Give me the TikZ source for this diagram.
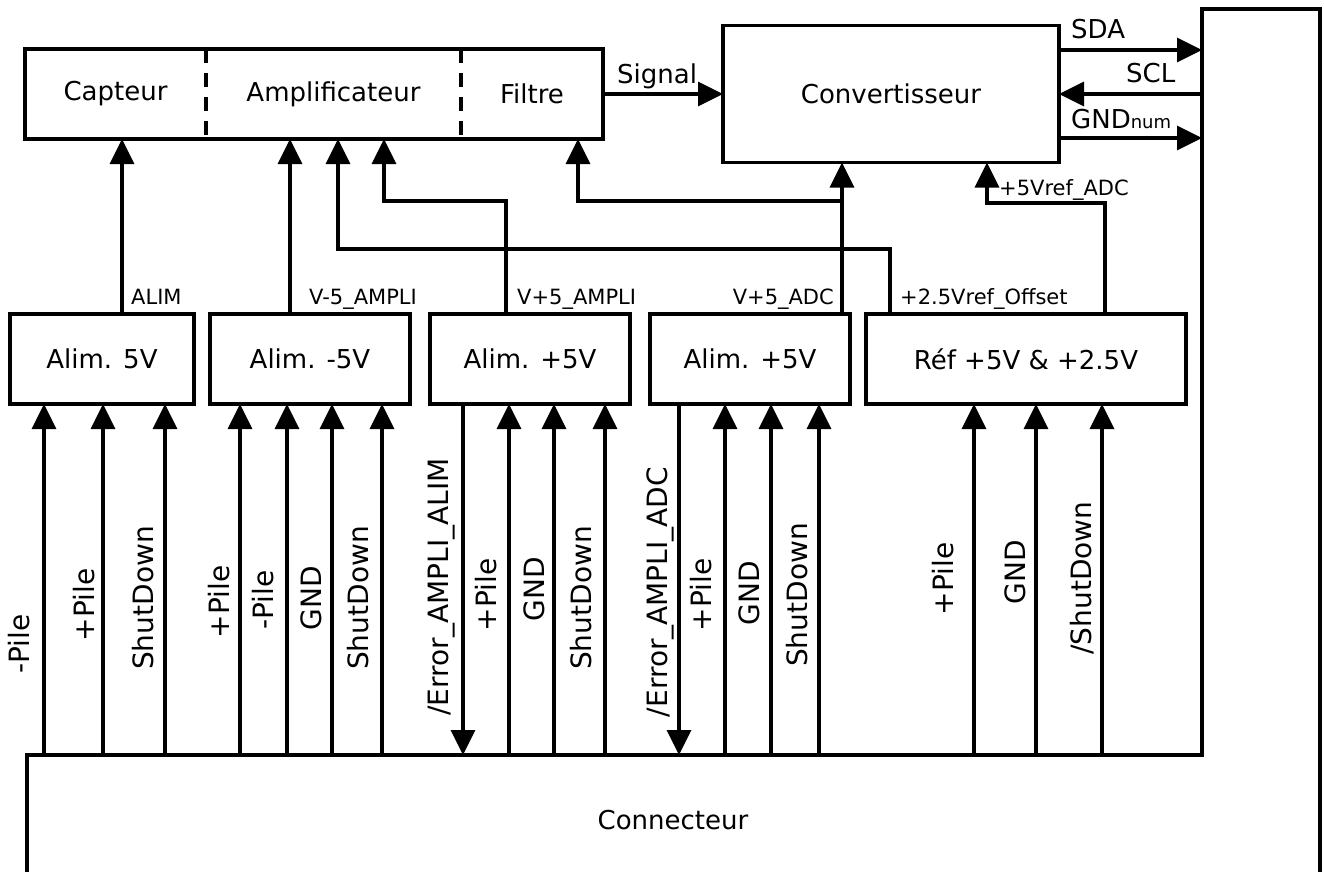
\documentclass[tikz,border=0pt]{standalone}
\usepackage{fontspec}
\setmainfont{DejaVu Sans}
\usetikzlibrary{arrows.meta,positioning,calc}

\tikzset{
  blk/.style={draw, line width=3.5pt, inner sep=0pt, outer sep=0pt, minimum height=90pt, font=\fontsize{26}{30}\selectfont},
  part/.style={inner sep=0pt, outer sep=0pt, minimum height=90pt, font=\fontsize{26}{30}\selectfont},
  sep/.style={line width=4pt, dash pattern=on 14pt off 10pt},
  wire/.style={line width=3.5pt},
  sig/.style={wire, -{Triangle[length=25pt,width=24pt]}},
  lbl/.style={inner sep=0pt, font=\fontsize{21}{24}\selectfont},
  big/.style={inner sep=0pt, font=\fontsize{26}{30}\selectfont},
  vlbl/.style={inner sep=0pt, rotate=90, anchor=base, font=\fontsize{28}{32}\selectfont},
}

\begin{document}
\begin{tikzpicture}[x=1pt, y=-1pt]
  \useasboundingbox (0,0) rectangle (1324,871);

  % Chaine de mesure
  \node[part, minimum width=181pt] (capteur) at (115.5,94) {Capteur};
  \node[part, minimum width=255pt] (ampli) at (333.5,94) {Amplificateur};
  \node[part, minimum width=142pt] (filtre) at (532,94) {Filtre};
  \draw[line width=3.5pt] (capteur.north west) rectangle (filtre.south east);
  \draw[sep] (capteur.north east) -- (capteur.south east);
  \draw[sep] (ampli.north east) -- (ampli.south east);

  \node[blk, minimum width=336pt, minimum height=137pt] (conv) at (891,94) {Convertisseur};

  % Connecteur
  \coordinate (cnw) at (1202,9);
  \coordinate (bus) at (27,755);
  \draw[wire] (27,880) -- (bus) -- (cnw |- bus) -- (cnw) -- (1320,9) -- (1320,880);
  \node[big] (connecteur) at (673,820) {Connecteur};

  % Alimentations
  \node[blk, minimum width=184pt] (alim1) at (102,359) {Alim. 5V};
  \node[blk, minimum width=200pt] (alim2) at (310,359) {Alim. -5V};
  \node[blk, minimum width=200pt] (alim3) at (530,359) {Alim. +5V};
  \node[blk, minimum width=200pt] (alim4) at (750,359) {Alim. +5V};
  \node[blk, minimum width=320pt] (ref) at (1026,359) {Réf +5V \& +2.5V};

  % Signal et bus I2C
  \draw[sig] (filtre.east) -- (conv.west);
  \node[big, anchor=base west] (lSig) at (617,83) {Signal};
  \draw[sig] (conv.east |- 0,50) -- (cnw |- 0,50);
  \node[big, anchor=base west] (lSDA) at (1071,38) {SDA};
  \draw[sig] (cnw |- 0,94) -- (conv.east);
  \node[big, anchor=base west] (lSCL) at (1126,82) {SCL};
  \draw[sig] (conv.east |- 0,138) -- (cnw |- 0,138);
  \node[big, anchor=base west] (lGND) at (1071,128) {GND{\fontsize{18}{20}\selectfont num}};

  % Tensions d'alimentation
  \draw[sig] (122,0 |- alim1.north) -- (122,0 |- capteur.south);
  \node[lbl, anchor=base west] (lAlim) at (131,304) {ALIM};
  \draw[sig] (290,0 |- alim2.north) -- (290,0 |- ampli.south);
  \node[lbl, anchor=base west] (lVm) at (309,304) {V-5\_AMPLI};
  \draw[sig] (506,0 |- alim3.north) -- (506,201) -| (384,0 |- ampli.south);
  \node[lbl, anchor=base west] (lVp) at (517,304) {V+5\_AMPLI};
  \draw[sig] (842,0 |- alim4.north) -- (842,0 |- conv.south);
  \draw[sig] (842,201) -| (578,0 |- filtre.south);
  \node[lbl, anchor=base east] (lVadc) at (834,304) {V+5\_ADC};
  \draw[sig] (890,0 |- ref.north) -- (890,249) -| (338,0 |- ampli.south);
  \node[lbl, anchor=base west] (lOff) at (900,304) {+2.5Vref\_Offset};
  \draw[sig] (1105,0 |- ref.north) -- (1105,203) -| (987,0 |- conv.south);
  \node[lbl, anchor=base west] (lRef) at (999,195) {+5Vref\_ADC};

  % Liaisons vers le connecteur
  \foreach \x in {44,103,165} \draw[sig] (\x,0 |- bus) -- (\x,0 |- alim1.south);
  \foreach \x in {240,287,332,382} \draw[sig] (\x,0 |- bus) -- (\x,0 |- alim2.south);
  \foreach \x in {509,554,605} \draw[sig] (\x,0 |- bus) -- (\x,0 |- alim3.south);
  \foreach \x in {725,771,819} \draw[sig] (\x,0 |- bus) -- (\x,0 |- alim4.south);
  \foreach \x in {974,1036,1102} \draw[sig] (\x,0 |- bus) -- (\x,0 |- ref.south);
  \draw[sig] (463,0 |- alim3.south) -- (463,0 |- bus);
  \draw[sig] (679,0 |- alim4.south) -- (679,0 |- bus);

  % Noms des lignes
  \foreach \x/\y/\t [count=\i] in {29/644/-Pile, 94/605/+Pile, 153/598/ShutDown,
      229/602/+Pile, 273/600/-Pile, 321/598/GND, 368/598/ShutDown,
      448/587/{/Error\_AMPLI\_ALIM}, 496/595/+Pile, 544/589/GND, 591/598/ShutDown,
      667/592/{/Error\_AMPLI\_ADC}, 711/595/+Pile, 759/593/GND, 807/595/ShutDown,
      953/579/+Pile, 1025/572/GND, 1091/578/{/ShutDown}}
    \node[vlbl] (v\i) at (\x,\y) {\t};
\end{tikzpicture}
\end{document}
